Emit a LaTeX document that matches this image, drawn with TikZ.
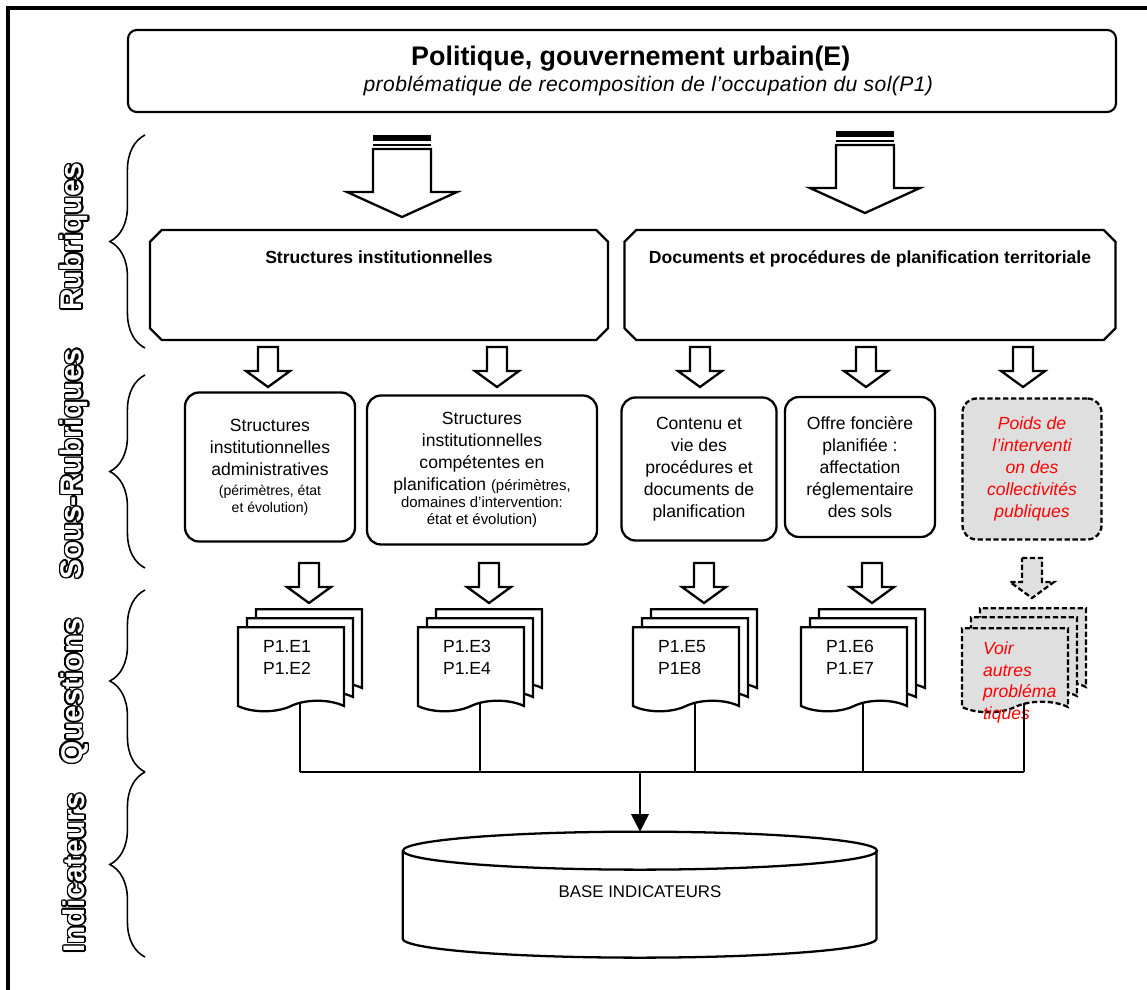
\documentclass[tikz,border=0pt]{standalone}
\usepackage{fontspec}
\setmainfont{Liberation Sans}
\usepackage{contour}
\usetikzlibrary{arrows.meta, shapes.misc, shapes.symbols, decorations.pathreplacing}
\contourlength{0.85pt}
\newcommand{\pxu}{0.02cm}
\tikzset{
  outline/.style={line width=1.3pt},
  topbox/.style={rectangle, draw, line width=1.2pt, rounded corners=5pt,
                 minimum width=988*\pxu, minimum height=82*\pxu, align=center},
  rubbox/.style={chamfered rectangle, chamfered rectangle xsep=6pt, draw, outline,
                 minimum height=110*\pxu},
  rubtitle/.style={anchor=north, yshift=-16*\pxu, font=\fontsize{10}{12}\selectfont\bfseries},
  subbox/.style={rectangle, draw, outline, rounded corners=8pt, align=center,
                 font=\fontsize{10}{12.5}\selectfont},
  ghost/.style={fill=gray!25, draw, dash pattern=on 3pt off 1.5pt},
  redtxt/.style={text=red, font=\fontsize{10}{12.5}\selectfont\itshape},
  sheet/.style={tape, tape bend top=none, tape bend bottom=in and out, tape bend height=6pt,
                draw, outline, fill=white, minimum width=106*\pxu, minimum height=84*\pxu},
  qtext/.style={anchor=north west, align=left, xshift=20*\pxu, yshift=-8*\pxu,
                font=\fontsize{10}{12.5}\selectfont},
  buswire/.style={line width=1.1pt},
  brc/.style={decorate, decoration={brace, amplitude=20pt}, line width=0.9pt},
  sidelbl/.style={rotate=90, font=\fontsize{17}{17}\selectfont\bfseries},
  pics/smallarr/.style={code={\draw[outline, fill=white, #1]
      (-10,0) -- (10,0) -- (10,24) -- (22,24) -- (0,40) -- (-22,24) -- (-10,24) -- cycle;}},
  pics/smallarr/.default={},
  bigarr/.pic={
      \fill (-29,0) rectangle (29,6);
      \fill (-29,9) rectangle (29,11);
      \draw[outline, fill=white]
      (-29,14) -- (29,14) -- (29,57) -- (55,57) -- (0,82) -- (-55,57) -- (-29,57) -- cycle;},
}
\begin{document}
\begin{tikzpicture}[x=0.02cm, y=-0.02cm]
  \useasboundingbox (0,0) rectangle (1147,990);
  \draw[line width=1.8pt] (8,990) -- (8,8) -- (1147,8);

  % en-tete
  \node[topbox] (head) at (622,71)
    {\hspace*{10pt}{\fontsize{15.3}{18}\selectfont\bfseries Politique, gouvernement urbain(E)}\\[2pt]
     \hspace*{30pt}{\fontsize{12}{14}\selectfont\itshape\addfontfeature{LetterSpace=2}probl\'ematique de recomposition de l’occupation du sol(P1)}};
  \pic at (402,135) {bigarr};
  \pic at (865,131) {bigarr};

  % rubriques
  \node[rubbox, minimum width=458*\pxu,
        label={[rubtitle]north:Structures institutionnelles}] (r1) at (379,285) {};
  \node[rubbox, minimum width=491*\pxu,
        label={[rubtitle]north:Documents et proc\'edures de planification territoriale}] (r2) at (870,285) {};

  % sous-rubriques
  \foreach \ax in {268,497,700,866,1023} \pic at (\ax,347) {smallarr};
  \node[subbox, minimum width=170*\pxu, minimum height=149*\pxu] (s1) at (270,467)
    {Structures\\institutionnelles\\administratives\\[-1pt]
     {\fontsize{8}{10}\selectfont(p\'erim\`etres, \'etat}\\[-3pt]{\fontsize{8}{10}\selectfont et \'evolution)}};
  \node[subbox, minimum width=230*\pxu, minimum height=149*\pxu] (s2) at (482,470)
    {Structures\\institutionnelles\\comp\'etentes en\\planification {\fontsize{8.5}{10}\selectfont(p\'erim\`etres,}\\[-3pt]
     {\fontsize{8.5}{10}\selectfont domaines d’intervention:}\\[-3pt]{\fontsize{8.5}{10}\selectfont \'etat et \'evolution)}};
  \node[subbox, minimum width=155*\pxu, minimum height=143*\pxu] (s3) at (699,469)
    {Contenu et\\vie des\\proc\'edures et\\documents de\\planification};
  \node[subbox, minimum width=150*\pxu, minimum height=140*\pxu] (s4) at (860,467)
    {Offre fonci\`ere\\planifi\'ee :\\affectation\\r\'eglementaire\\des sols};
  \node[subbox, ghost, redtxt, minimum width=139*\pxu, minimum height=141*\pxu] (s5) at (1032,469)
    {Poids de\\l’interventi\\on des\\collectivit\'es\\publiques};

  % questions
  \foreach \n/\qx/\qa/\qb in {1/291/P1.E1/P1.E2, 2/471/P1.E3/P1.E4, 3/686/P1.E5/P1E8, 4/854/P1.E6/P1.E7} {
    \node[sheet] (q\n-back) at (\qx+18,646) {};
    \node[sheet] (q\n-mid) at (\qx+9,655) {};
    \node[sheet, label={[qtext]north west:{\qa\\\qb}}] (q\n) at (\qx,664) {};
    \pic at (\qx+18,563) {smallarr};
  }
  \node[sheet, ghost] (q5-back) at (1033,645) {};
  \node[sheet, ghost] (q5-mid) at (1024,654) {};
  \node[sheet, ghost, label={[qtext, redtxt, xshift=-4*\pxu]north west:{Voir\\autres\\probl\'ema\\tiques}}] (q5) at (1015,665) {};
  \pic at (1032,558) {smallarr=ghost};

  % indicateurs
  \coordinate (bus) at (640,772);
  \foreach \n in {1,...,5}
    \draw[buswire] ([xshift=9*\pxu]q\n.south) -- ([xshift=9*\pxu]q\n.south |- bus);
  \draw[buswire] ([xshift=9*\pxu]q1.south |- bus) -- ([xshift=9*\pxu]q5.south |- bus);
  \node[minimum width=474*\pxu, minimum height=126*\pxu, font=\fontsize{9.6}{11}\selectfont] (base) at (640,895)
    {\raisebox{3.5pt}{BASE INDICATEURS}};
  \draw[buswire, -{Triangle[length=10pt, width=10pt]}] (bus) -- (base.north);
  \draw[outline] (base.north) ++(0,19) ellipse[x radius=4.74cm, y radius=0.38cm];
  \draw[outline] (base.north west) ++(0,19) -- ++(0,88)
    arc[start angle=180, end angle=360, x radius=4.74cm, y radius=0.38cm] -- ++(0,-88);

  % accolades
  \draw[brc] (145,348) -- (145,135);
  \draw[brc] (145,568) -- (145,375);
  \draw[brc] (145,772) -- (145,590);
  \draw[brc] (145,957) -- (145,772);
  \node[sidelbl] (l1) at (75,237) {\contour{black}{\textcolor{white}{Rubriques}}};
  \node[sidelbl] (l2) at (75,464) {\contour{black}{\textcolor{white}{Sous-Rubriques}}};
  \node[sidelbl] (l3) at (75,691) {\contour{black}{\textcolor{white}{Questions}}};
  \node[sidelbl] (l4) at (75,873) {\contour{black}{\textcolor{white}{Indicateurs}}};
\end{tikzpicture}
\end{document}
